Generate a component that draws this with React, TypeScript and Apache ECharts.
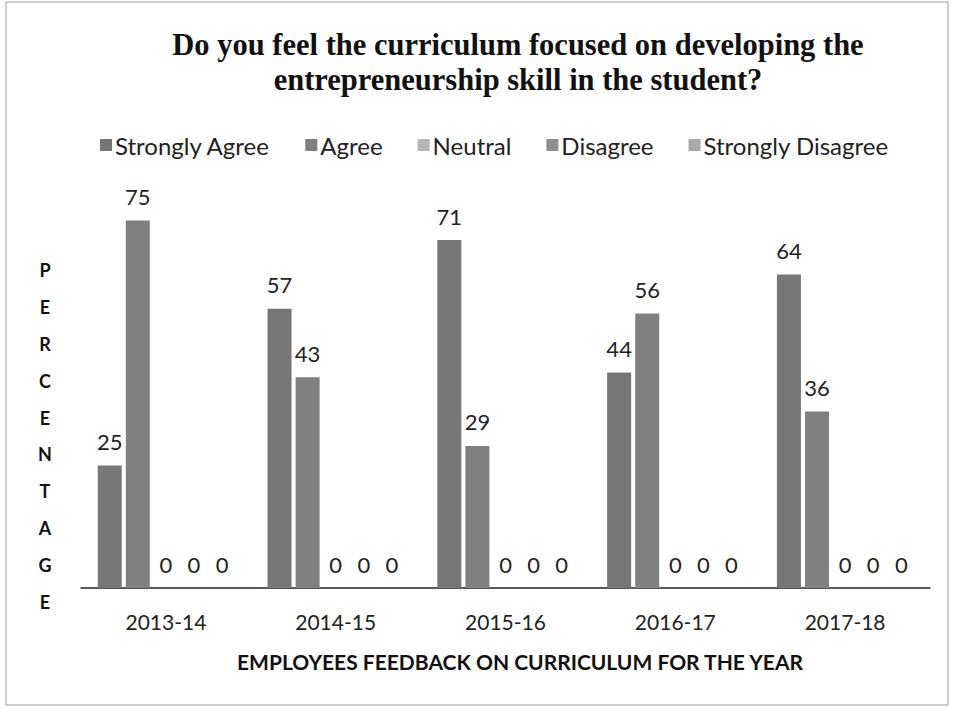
import React, { useEffect, useRef } from "react";
import * as echarts from "echarts";

const categories = ["2013-14", "2014-15", "2015-16", "2016-17", "2017-18"];
const seriesNames = ["Strongly Agree", "Agree", "Neutral", "Disagree", "Strongly Disagree"];
const stronglyAgree = [25, 57, 71, 44, 64];
const agree = [75, 43, 29, 56, 36];
const neutral = [0, 0, 0, 0, 0];
const disagree = [0, 0, 0, 0, 0];
const stronglyDisagree = [0, 0, 0, 0, 0];
const seriesValues = [stronglyAgree, agree, neutral, disagree, stronglyDisagree];
const seriesColors = ["#767676", "#808080", "#b5b5b5", "#8f8f8f", "#a8a8a8"];

const titleLines = [
  "Do you feel the curriculum focused on developing the",
  "entrepreneurship skill in the student?",
];
const yAxisTitle = "PERCENTAGE";
const xAxisTitle = "EMPLOYEES FEEDBACK ON CURRICULUM FOR THE YEAR";

const FONT = "Lato, 'Noto Sans', sans-serif";

export default function App() {
  const ref = useRef<HTMLDivElement>(null);
  useEffect(() => {
    if (!ref.current) return;
    const chart = echarts.init(ref.current, null, { renderer: "svg" });
    chart.setOption({
      animation: false,
      backgroundColor: "#ffffff",
      title: {
        text: titleLines.join("\n"),
        left: 513,
        top: 22,
        textAlign: "center",
        textStyle: {
          fontFamily: "'Liberation Serif', 'Times New Roman', serif",
          fontWeight: "bold",
          fontSize: 30.5,
          lineHeight: 35,
          color: "#111",
        },
      },
      legend: {
        data: seriesNames,
        left: 95,
        top: 128,
        itemWidth: 12,
        itemHeight: 12,
        itemGap: 35,
        icon: "rect",
        textStyle: { fontFamily: FONT, fontSize: 24, color: "#222", padding: [0, 0, 0, -2] },
      },
      grid: { left: 81, right: 30, top: 196, bottom: 121, containLabel: false },
      xAxis: {
        type: "category",
        data: categories,
        axisLine: { show: true, lineStyle: { color: "#222", width: 1.5 } },
        axisTick: { show: false },
        axisLabel: { margin: 23, fontFamily: FONT, fontSize: 21, color: "#222" },
      },
      yAxis: {
        type: "value",
        min: 0,
        max: 80,
        show: false,
        splitLine: { show: false },
      },
      series: seriesNames.map((name, i) => ({
        name,
        type: "bar",
        data: seriesValues[i],
        barWidth: 24,
        barGap: "17%",
        itemStyle: { color: seriesColors[i] },
        label: {
          show: true,
          position: "top",
          distance: 13,
          fontFamily: FONT,
          fontSize: 22,
          color: "#222",
        },
      })),
      graphic: [
        {
          type: "rect",
          shape: { x: 6, y: 2, width: 942, height: 703 },
          style: { fill: "none", stroke: "#9a9a9a", lineWidth: 1 },
          silent: true,
        },
        {
          type: "text",
          x: 45,
          y: 252,
          style: {
            text: yAxisTitle.split("").join("\n"),
            fontFamily: FONT,
            fontWeight: "bold",
            fontSize: 18,
            lineHeight: 36.8,
            fill: "#111",
            align: "center",
          },
        },
        {
          type: "text",
          x: 520,
          y: 651,
          style: {
            text: xAxisTitle,
            fontFamily: FONT,
            fontWeight: "bold",
            fontSize: 21,
            fill: "#111",
            align: "center",
          },
        },
      ],
    });
    return () => chart.dispose();
  }, []);
  return (
    <div
      ref={ref}
      style={{ position: "fixed", left: 0, top: 0, width: 960, height: 709 }}
    />
  );
}
